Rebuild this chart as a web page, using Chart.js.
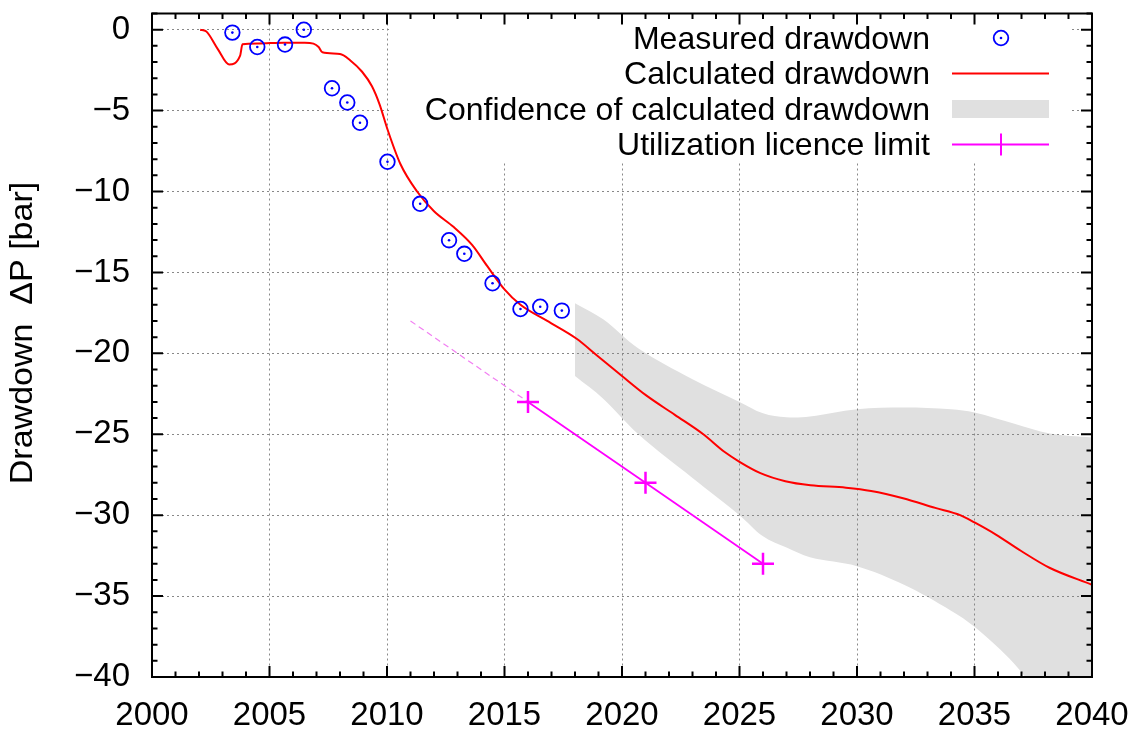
<!DOCTYPE html>
<html>
<head>
<meta charset="utf-8">
<script src="https://cdn.jsdelivr.net/npm/chart.js@4.4.1/dist/chart.umd.min.js"></script>
<style>
    html, body { margin: 0; padding: 0; background: #fff; }
</style>
</head>
<body>
<canvas id="drawdownChart" width="1136" height="731"></canvas>
<script>
// Measured drawdown (year, bar)
const measuredYears = [2003.42, 2004.48, 2005.66, 2006.46, 2007.66, 2008.31, 2008.85, 2010.02,
    2011.41, 2012.64, 2013.29, 2014.49, 2015.68, 2016.52, 2017.44];
const measuredValues = [-0.18, -1.07, -0.92, 0.0, -3.62, -4.5, -5.75, -8.16,
    -10.76, -13.01, -13.85, -15.67, -17.26, -17.12, -17.36];

// Calculated drawdown
const calcYears = [2002.05, 2002.3, 2002.8, 2003.28, 2003.75, 2003.85, 2004.5, 2005.6, 2006.5,
    2006.87, 2007.09, 2007.25, 2008.0, 2008.44, 2008.94, 2009.36, 2009.68, 2010.03, 2010.57,
    2011.28, 2011.99, 2012.84, 2013.62, 2014.26, 2014.97, 2015.68, 2016.82, 2018.07, 2018.91,
    2020.0, 2021.03, 2022.25, 2023.46, 2024.37, 2025.0, 2025.89, 2026.95, 2028.02, 2029.53,
    2030.6, 2031.96, 2033.33, 2034.39, 2035.0, 2035.91, 2036.97, 2038.19, 2040.0];
const calcValues = [0.0, -0.1, -1.2, -2.15, -1.6, -0.9, -0.85, -0.8, -0.8,
    -0.86, -1.07, -1.4, -1.5, -1.9, -2.6, -3.5, -4.6, -6.2, -8.3,
    -10.0, -11.2, -12.2, -13.3, -14.6, -16.0, -17.0, -18.0, -19.1, -20.1,
    -21.4, -22.6, -23.8, -25.0, -26.1, -26.7, -27.4, -27.9, -28.15, -28.3,
    -28.5, -28.95, -29.55, -30.0, -30.45, -31.2, -32.2, -33.25, -34.3];

// Confidence band of calculated drawdown
const bandYears = [2018, 2019.2, 2020.7, 2023, 2025, 2026, 2027, 2028, 2030, 2032, 2034, 2035, 2036.7, 2038.2, 2040];
const bandUpper = [-16.9, -17.9, -19.7, -21.6, -23.0, -23.7, -23.95, -23.9, -23.45, -23.35, -23.45, -23.65, -24.35, -24.95, -25.2];
const bandLower = [-21.4, -22.8, -25.0, -27.7, -30.0, -31.3, -32.0, -32.6, -33.15, -34.3, -35.9, -36.9, -39.2, -42.0, -45.0];

// Utilization licence limit (dashed extension + limit points)
const trendYears = [2011, 2016];
const trendValues = [-18, -23];
const limitYears = [2016, 2021, 2026];
const limitValues = [-23, -28, -33];

const xTicks = [2000, 2005, 2010, 2015, 2020, 2025, 2030, 2035, 2040];
const yTicks = [0, -5, -10, -15, -20, -25, -30, -35, -40];

const legendLabels = ["Measured drawdown", "Calculated drawdown",
    "Confidence of calculated drawdown", "Utilization licence limit"];
const yTitle = "Drawdown  \u0394P [bar]";

const FONT = "'Liberation Sans', Arial, Helvetica, sans-serif";
const BLUE = "#0000ff";
const RED = "#ff0000";
const MAGENTA = "#ff00ff";
const GREY = "#e0e0e0";

function puntos(xs, ys) {
    return xs.map(function(x, i) { return { x: x, y: ys[i] }; });
}

// frame with inward ticks on all four sides
const framePlugin = {
    id: 'frame',
    afterDatasetsDraw(chart) {
        const ctx = chart.ctx;
        const a = chart.chartArea;
        const xs = chart.scales.x, ys = chart.scales.y;
        ctx.save();
        ctx.strokeStyle = "#000";
        ctx.lineWidth = 2;
        ctx.beginPath();
        for (let yr = 2000; yr <= 2040; yr++) {
            const len = yr % 5 === 0 ? 11 : 5.5;
            const px = xs.getPixelForValue(yr);
            ctx.moveTo(px, a.bottom); ctx.lineTo(px, a.bottom - len);
            ctx.moveTo(px, a.top); ctx.lineTo(px, a.top + len);
        }
        for (let v = -40; v <= 1; v++) {
            const len = v % 5 === 0 ? 11 : 5.5;
            const py = ys.getPixelForValue(v);
            ctx.moveTo(a.left, py); ctx.lineTo(a.left + len, py);
            ctx.moveTo(a.right, py); ctx.lineTo(a.right - len, py);
        }
        ctx.stroke();
        ctx.strokeRect(a.left, a.top, a.right - a.left, a.bottom - a.top);

        // y axis title
        ctx.translate(31.5, 333);
        ctx.rotate(-Math.PI / 2);
        ctx.scale(1, 0.9);
        ctx.fillStyle = "#000";
        ctx.font = "34px " + FONT;
        ctx.textAlign = "center";
        ctx.textBaseline = "alphabetic";
        ctx.fillText(yTitle, 0, 0);
        ctx.restore();
    }
};

// legend box (white, covers the grid)
const legendPlugin = {
    id: 'leyenda',
    beforeDatasetsDraw(chart) {
        const ctx = chart.ctx;
        const rows = [40, 75.5, 111, 146.5];
        const sx0 = 952, sx1 = 1049, sxc = 1001;
        ctx.save();
        ctx.fillStyle = "#fff";
        ctx.fillRect(390, 10, 680, 153);
        ctx.fillStyle = "#000";
        ctx.font = "32px " + FONT;
        ctx.textAlign = "right";
        ctx.textBaseline = "middle";
        legendLabels.forEach(function(t, i) { ctx.fillText(t, 930, rows[i]); });

        ctx.strokeStyle = BLUE;
        ctx.lineWidth = 1.8;
        ctx.beginPath(); ctx.arc(sxc, rows[0] - 2, 7.3, 0, Math.PI * 2); ctx.stroke();
        ctx.fillStyle = BLUE;
        ctx.beginPath(); ctx.arc(sxc, rows[0] - 2, 1.3, 0, Math.PI * 2); ctx.fill();

        ctx.strokeStyle = RED; ctx.lineWidth = 2;
        ctx.beginPath(); ctx.moveTo(sx0, rows[1] - 2); ctx.lineTo(sx1, rows[1] - 2); ctx.stroke();

        ctx.fillStyle = GREY;
        ctx.fillRect(sx0, rows[2] - 11, sx1 - sx0, 18);

        ctx.strokeStyle = MAGENTA; ctx.lineWidth = 2;
        const ym = rows[3] - 2;
        ctx.beginPath();
        ctx.moveTo(sx0, ym); ctx.lineTo(sx1, ym);
        ctx.moveTo(sxc - 11, ym); ctx.lineTo(sxc + 11, ym);
        ctx.moveTo(sxc, ym - 11); ctx.lineTo(sxc, ym + 11);
        ctx.stroke();
        ctx.restore();
    }
};

const ctx = document.getElementById('drawdownChart').getContext('2d');

new Chart(ctx, {
    type: 'scatter',
    data: {
        datasets: [
            {
                label: legendLabels[0],
                data: puntos(measuredYears, measuredValues),
                pointStyle: 'circle',
                pointRadius: 7.3,
                pointBorderWidth: 1.8,
                borderColor: BLUE,
                backgroundColor: 'rgba(0,0,0,0)',
                showLine: false
            },
            {
                label: 'centre',
                data: puntos(measuredYears, measuredValues),
                pointRadius: 1.3,
                pointBorderWidth: 0,
                backgroundColor: BLUE,
                borderColor: BLUE,
                showLine: false
            },
            {
                label: legendLabels[1],
                data: puntos(calcYears, calcValues),
                showLine: true,
                borderColor: RED,
                borderWidth: 2,
                pointRadius: 0,
                cubicInterpolationMode: 'monotone',
                fill: false
            },
            {
                label: legendLabels[3],
                data: puntos(limitYears, limitValues),
                showLine: true,
                borderColor: MAGENTA,
                backgroundColor: MAGENTA,
                borderWidth: 1.8,
                pointStyle: 'cross',
                pointRadius: 11,
                pointBorderWidth: 2.5,
                fill: false
            },
            {
                label: 'trend',
                data: puntos(trendYears, trendValues),
                showLine: true,
                borderColor: '#f27ff2',
                borderWidth: 1.2,
                borderDash: [6, 4],
                pointRadius: 0,
                fill: false
            },
            {
                label: legendLabels[2],
                data: puntos(bandYears, bandUpper),
                showLine: true,
                borderColor: 'rgba(0,0,0,0)',
                borderWidth: 0,
                pointRadius: 0,
                tension: 0.35,
                backgroundColor: GREY,
                fill: '+1'
            },
            {
                label: 'lower',
                data: puntos(bandYears, bandLower),
                showLine: true,
                borderColor: 'rgba(0,0,0,0)',
                borderWidth: 0,
                pointRadius: 0,
                tension: 0.35,
                fill: false
            }
        ]
    },
    options: {
        responsive: false,
        animation: false,
        devicePixelRatio: 1,
        layout: { padding: { top: 9, right: 44, left: 0, bottom: 0 } },
        plugins: {
            legend: { display: false },
            tooltip: { enabled: false },
            filler: { drawTime: 'beforeDraw' }
        },
        scales: {
            x: {
                type: 'linear',
                min: 2000,
                max: 2040,
                afterBuildTicks: function(s) { s.ticks = xTicks.map(function(v) { return { value: v }; }); },
                afterFit: function(s) {
                    s.height = 54;
                    s.paddingLeft = 0; s.paddingRight = 0;
                },
                ticks: {
                    font: { family: FONT, size: 33 },
                    color: '#000',
                    padding: 19,
                    maxRotation: 0,
                    autoSkip: false,
                    callback: function(v) { return String(v); }
                },
                grid: { color: '#888', lineWidth: 1, drawTicks: false },
                border: { display: false, dash: [2, 3] }
            },
            y: {
                type: 'linear',
                min: -40,
                max: 1,
                afterBuildTicks: function(s) { s.ticks = yTicks.map(function(v) { return { value: v }; }); },
                afterFit: function(s) {
                    s.width = 152;
                    s.paddingTop = 0; s.paddingBottom = 0;
                },
                ticks: {
                    font: { family: FONT, size: 33 },
                    color: '#000',
                    padding: 22,
                    autoSkip: false,
                    callback: function(v) { return v < 0 ? '\u2212' + Math.abs(v) : String(v); }
                },
                grid: { color: '#888', lineWidth: 1, drawTicks: false },
                border: { display: false, dash: [2, 3] }
            }
        }
    },
    plugins: [legendPlugin, framePlugin]
});
</script>
</body>
</html>
